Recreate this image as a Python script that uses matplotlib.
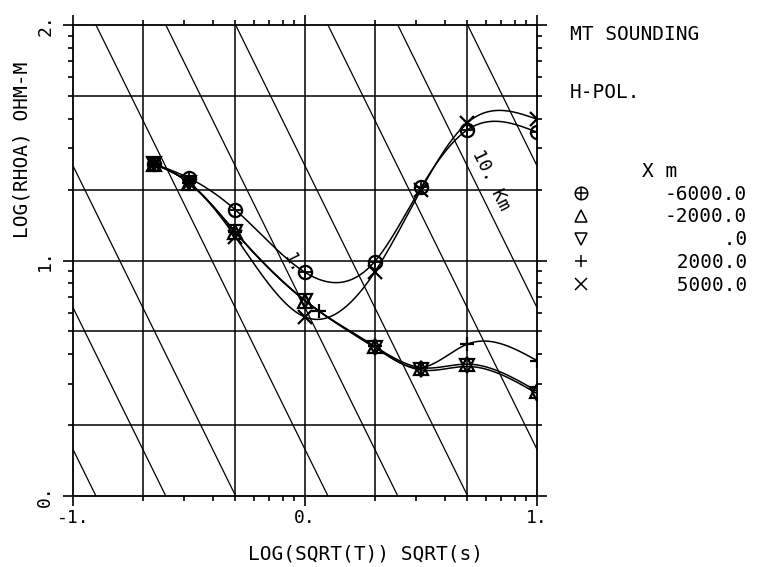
import numpy as np
import matplotlib
matplotlib.use('Agg')
import matplotlib.pyplot as plt
from matplotlib.lines import Line2D

plt.rcParams['font.family'] = ['DejaVu Sans Mono', 'DejaVu Sans']
plt.rcParams['font.size'] = 12

# sounding data: log10(sqrt(T)) vs log10(rho_a), one list per station
x_pts = [-0.65, -0.5, -0.3, 0.0, 0.3, 0.5, 0.7, 1.0]
x_pts_plus = [-0.65, -0.5, -0.3, 0.06, 0.3, 0.5, 0.7, 1.0]
rho_m6000 = [1.41, 1.35, 1.215, 0.95, 0.995, 1.31, 1.555, 1.545]
rho_m2000 = [1.41, 1.33, 1.12, 0.83, 0.635, 0.545, 0.56, 0.445]
rho_0 = [1.41, 1.33, 1.12, 0.83, 0.63, 0.535, 0.55, 0.435]
rho_p2000 = [1.41, 1.33, 1.12, 0.785, 0.635, 0.545, 0.645, 0.575]
rho_p5000 = [1.41, 1.33, 1.10, 0.76, 0.95, 1.30, 1.585, 1.60]
station_labels = ['-6000.0', '-2000.0', '     .0', ' 2000.0', ' 5000.0']

# depth reference lines (km); y = 2*(log10(d) + c - x)
depth_km = [0.05, 0.1, 0.2, 0.5, 1, 2, 5, 10, 20]
depth_const = 0.4

grid_x = [-0.699, -0.301, 0.0, 0.301, 0.699]
grid_y = [0.301, 0.699, 1.0, 1.301, 1.699]


def spline(x, y, n=300):
    # natural cubic spline, just for drawing the smooth curve
    x = np.asarray(x, float)
    y = np.asarray(y, float)
    k = len(x)
    h = np.diff(x)
    A = np.zeros((k, k))
    b = np.zeros(k)
    A[0, 0] = A[-1, -1] = 1
    for i in range(1, k - 1):
        A[i, i - 1] = h[i - 1]
        A[i, i] = 2 * (h[i - 1] + h[i])
        A[i, i + 1] = h[i]
        b[i] = 6 * ((y[i + 1] - y[i]) / h[i] - (y[i] - y[i - 1]) / h[i - 1])
    M = np.linalg.solve(A, b)
    xs = np.linspace(x[0], x[-1], n)
    idx = np.clip(np.searchsorted(x, xs) - 1, 0, k - 2)
    x0, x1 = x[idx], x[idx + 1]
    hh = x1 - x0
    t0 = x1 - xs
    t1 = xs - x0
    ys = (M[idx] * t0**3 + M[idx + 1] * t1**3) / (6 * hh) \
        + (y[idx] / hh - M[idx] * hh / 6) * t0 \
        + (y[idx + 1] / hh - M[idx + 1] * hh / 6) * t1
    return xs, ys


fig = plt.figure(figsize=(7.6, 5.67), dpi=100)
ax = fig.add_axes([73 / 760, 71 / 567, 464 / 760, 471 / 567])
ax.set_xlim(-1, 1)
ax.set_ylim(0, 2)

lw = 1.1
for gx in grid_x:
    ax.axvline(gx, color='black', lw=1.1, zorder=1)
for gy in grid_y:
    ax.axhline(gy, color='black', lw=1.1, zorder=1)

for d in depth_km:
    ax.axline((np.log10(d) + depth_const, 0), slope=-2, color='black', lw=0.9, zorder=1)

ax.text(0.80, 1.34, '10. Km', rotation=-63.8, ha='center', va='center', fontsize=13)
ax.text(-0.055, 0.99, '1.', rotation=-63.8, ha='center', va='center', fontsize=12)

ms = 9.5
series = [
    (x_pts, rho_m6000, 'o'),
    (x_pts, rho_m2000, '^'),
    (x_pts, rho_0, 'v'),
    (x_pts_plus, rho_p2000, '+'),
    (x_pts, rho_p5000, 'x'),
]
for xv, yv, mk in series:
    xs, ys = spline(xv, yv)
    ax.plot(xs, ys, color='black', lw=lw, zorder=3)
    ax.plot(xv, yv, ls='none', marker=mk, ms=ms, mfc='none', mec='black', mew=1.6, zorder=4)
ax.plot(x_pts, rho_m6000, ls='none', marker='+', ms=ms, mec='black', mew=1.3, zorder=4)

for s in ax.spines.values():
    s.set_linewidth(1.3)

ax.set_xticks([-1, 0, 1])
ax.set_xticklabels(['-1.', '0.', '1.'], fontsize=13)
ax.set_yticks([0, 1, 2])
ax.set_yticklabels(['0.', '1.', '2.'], rotation=90, va='center', fontsize=13)
minor = [dec + np.log10(k) for dec in (-1, 0, 1) for k in range(2, 10)]
ax.set_xticks([m for m in minor if m < 1], minor=True)
ax.set_yticks([m + 1 for m in minor if m < 1], minor=True)
ax.tick_params(which='both', direction='out', top=True, right=True, width=1.2)
ax.tick_params(which='major', length=7.5)
ax.tick_params(which='minor', length=3.8)
ax.tick_params(axis='x', pad=2)
ax.tick_params(axis='y', pad=6)

ax.set_xlabel('LOG(SQRT(T)) SQRT(s)', fontsize=14)
ax.xaxis.set_label_coords((365 - 73) / 464, -(545 - 496) / 471)
fig.text(22 / 760, 1 - 150 / 567, 'LOG(RHOA) OHM-M', rotation=90, ha='center', va='center', fontsize=14)

fig.text(570 / 760, 1 - 35 / 567, 'MT SOUNDING', va='center', fontsize=14)
fig.text(570 / 760, 1 - 92 / 567, 'H-POL.', va='center', fontsize=14)

kw = dict(ls='none', color='black', mfc='none', mec='black', ms=9, mew=1.1)
handles = [
    (Line2D([], [], marker='o', **kw), Line2D([], [], marker='+', **kw)),
    Line2D([], [], marker='^', **kw),
    Line2D([], [], marker='v', **kw),
    Line2D([], [], marker='+', **kw),
    Line2D([], [], marker='x', **kw),
]
fig.legend(handles, station_labels, title='X m', loc='upper right',
           bbox_to_anchor=(757 / 760, 1 - 152 / 567), frameon=False,
           prop={'size': 14}, title_fontsize=14, handletextpad=3.8,
           labelspacing=0.2, handlelength=1.0, borderpad=0)

fig.savefig('out.png', dpi=100)
